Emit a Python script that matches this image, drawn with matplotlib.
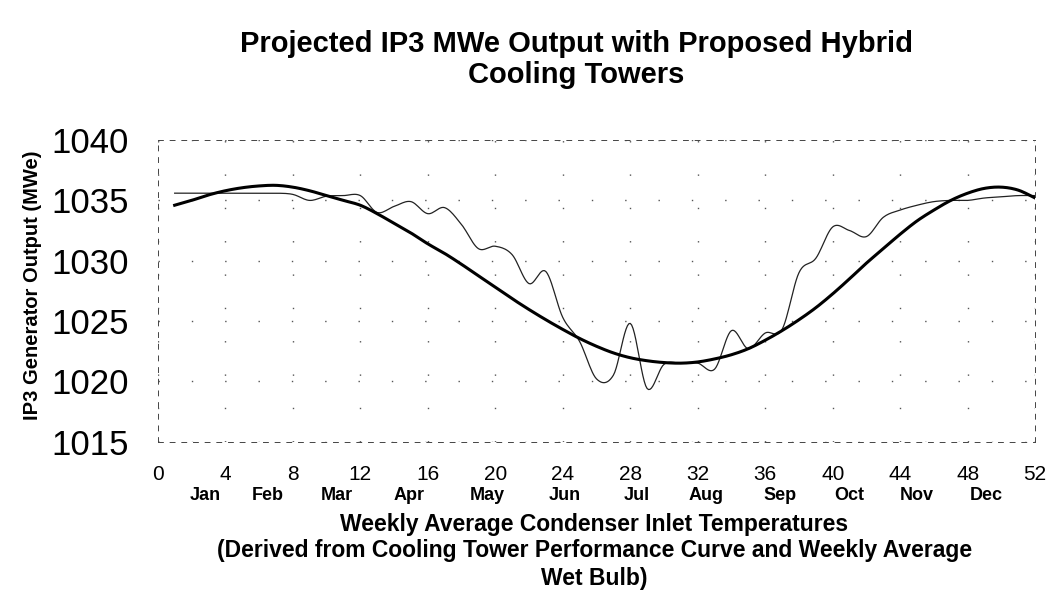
import numpy as np
import matplotlib
matplotlib.use("Agg")
import matplotlib.pyplot as plt

plt.rcParams['font.family'] = ['Liberation Sans', 'DejaVu Sans']

# weekly values
weeks = list(range(1, 53))
projected = [1035.6, 1035.6, 1035.6, 1035.6, 1035.6, 1035.6, 1035.6, 1035.5,
             1035.0, 1035.35, 1035.4, 1035.4, 1034.0, 1034.5, 1034.9, 1033.9,
             1034.4, 1033.0, 1031.0, 1031.2, 1030.5, 1028.1, 1029.1, 1025.3,
             1023.3, 1020.2, 1020.5, 1024.8, 1019.4, 1021.4, 1021.5, 1021.5,
             1021.0, 1024.2, 1022.7, 1024.0, 1024.3, 1029.0, 1030.2, 1032.8,
             1032.5, 1032.0, 1033.6, 1034.2, 1034.6, 1034.9, 1035.0, 1035.0,
             1035.2, 1035.3, 1035.4, 1035.4]
trend = [1034.6, 1035.0, 1035.45, 1035.8, 1036.05, 1036.2, 1036.25, 1036.1,
         1035.8, 1035.4, 1035.0, 1034.6, 1033.9, 1033.1, 1032.3, 1031.4,
         1030.6, 1029.7, 1028.75, 1027.8, 1026.85, 1025.95, 1025.1, 1024.3,
         1023.55, 1022.9, 1022.35, 1021.95, 1021.7, 1021.55, 1021.5, 1021.6,
         1021.85, 1022.2, 1022.7, 1023.4, 1024.2, 1025.1, 1026.1, 1027.25,
         1028.5, 1029.8, 1031.0, 1032.2, 1033.3, 1034.2, 1035.0, 1035.6,
         1036.0, 1036.1, 1035.85, 1035.2]
months = ['Jan', 'Feb', 'Mar', 'Apr', 'May', 'Jun',
          'Jul', 'Aug', 'Sep', 'Oct', 'Nov', 'Dec']
month_pos = [2.8, 6.5, 10.6, 14.9, 19.5, 24.1, 28.4, 32.5, 36.9, 41.0, 45.0, 49.1]


def smooth(x, y, n=12):
    # Excel-like smoothed line (Catmull-Rom through the weekly points)
    x = np.asarray(x, float)
    y = np.asarray(y, float)
    px = np.concatenate([[2 * x[0] - x[1]], x, [2 * x[-1] - x[-2]]])
    py = np.concatenate([[2 * y[0] - y[1]], y, [2 * y[-1] - y[-2]]])
    t = np.linspace(0, 1, n, endpoint=False)
    xs, ys = [], []
    for i in range(1, len(px) - 2):
        for arr, out in ((px, xs), (py, ys)):
            p0, p1, p2, p3 = arr[i - 1], arr[i], arr[i + 1], arr[i + 2]
            out.extend(0.5 * (2 * p1 + (-p0 + p2) * t
                              + (2 * p0 - 5 * p1 + 4 * p2 - p3) * t ** 2
                              + (-p0 + 3 * p1 - 3 * p2 + p3) * t ** 3))
    xs.append(x[-1])
    ys.append(y[-1])
    return np.array(xs), np.array(ys)


fig = plt.figure(figsize=(10.52, 6.04), dpi=100)
ax = fig.add_axes([0.150, 0.269, 0.834, 0.499])

sx, sy = smooth(weeks, projected)
ax.plot(sx, sy, color='#222222', lw=0.9)
tx, ty = smooth(weeks, trend)
ax.plot(tx, ty, color='black', lw=2.2)

ax.set_xlim(0, 52)
ax.set_ylim(1015, 1040)
ax.set_xticks(range(0, 53, 4))
ax.set_yticks(range(1015, 1041, 5))
ax.tick_params(length=0)
ax.tick_params(axis='y', labelsize=25, pad=21)
ax.tick_params(axis='x', labelsize=15, pad=17)

ax.grid(True, color='#555555', lw=1.0, linestyle=(0, (1, 23)))
for s in ax.spines.values():
    s.set_linestyle((0, (5, 7)))
    s.set_linewidth(0.7)
    s.set_color('#444444')

for m, p in zip(months, month_pos):
    ax.text(p, -0.18, m, transform=ax.get_xaxis_transform(), ha='center',
            va='center', fontsize=13, fontweight='bold')

ax.set_ylabel('IP3 Generator Output (MWe)', fontsize=14.5, fontweight='bold',
              labelpad=14)
ax.yaxis.set_label_coords(-0.132, 0.52)

fig.text(0.548, 0.927, 'Projected IP3 MWe Output with Proposed Hybrid',
         ha='center', va='center', fontsize=21, fontweight='bold')
fig.text(0.548, 0.876, 'Cooling Towers', ha='center', va='center',
         fontsize=21, fontweight='bold')

fig.text(0.565, 0.132, 'Weekly Average Condenser Inlet Temperatures',
         ha='center', va='center', fontsize=16.5, fontweight='bold')
fig.text(0.565, 0.088,
         '(Derived from Cooling Tower Performance Curve and Weekly Average',
         ha='center', va='center', fontsize=16.5, fontweight='bold')
fig.text(0.565, 0.043, 'Wet Bulb)', ha='center', va='center',
         fontsize=16.5, fontweight='bold')

fig.savefig('out.png', dpi=100)
